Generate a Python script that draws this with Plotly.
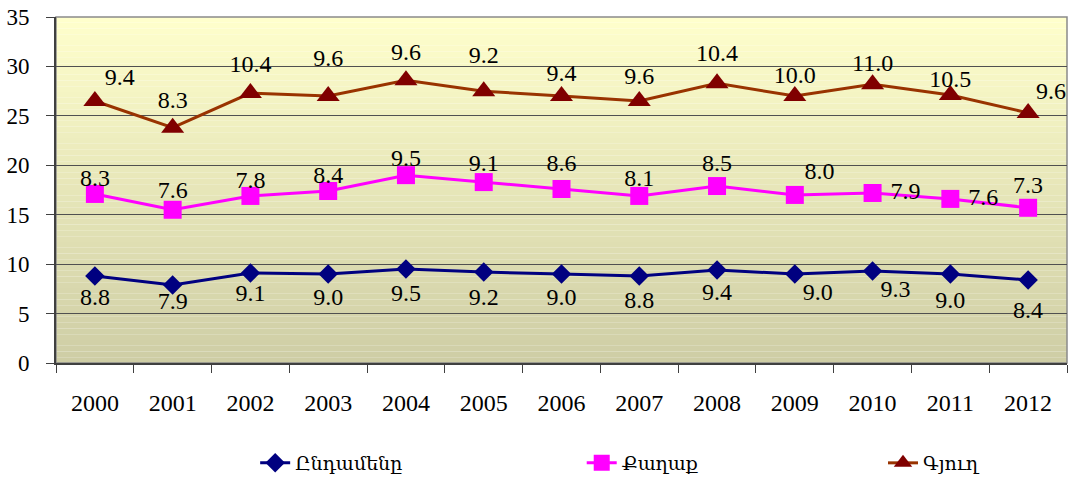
import plotly.graph_objects as go

years = ["2000", "2001", "2002", "2003", "2004", "2005", "2006",
         "2007", "2008", "2009", "2010", "2011", "2012"]
total = [8.8, 7.9, 9.1, 9.0, 9.5, 9.2, 9.0, 8.8, 9.4, 9.0, 9.3, 9.0, 8.4]
city = [8.3, 7.6, 7.8, 8.4, 9.5, 9.1, 8.6, 8.1, 8.5, 8.0, 7.9, 7.6, 7.3]
village = [9.4, 8.3, 10.4, 9.6, 9.6, 9.2, 9.4, 9.6, 10.4, 10.0, 11.0, 10.5, 9.6]
names = ["Ընդամենը", "Քաղաք", "Գյուղ"]

FONT = "Liberation Serif, DejaVu Serif, Times New Roman, serif"
LFONT = "Liberation Serif, DejaVu Serif, serif"

# label placement (style only)
pos_total = ["bottom center"] * 13
pos_total[9] = "bottom right"
pos_total[10] = "bottom right"
off_total = [16, 8, 14, 19, 21, 22, 19, 21, 17, 11, 11, 24, 30]

pos_city = ["top center"] * 13
pos_city[9] = "top right"
pos_city[10] = "middle right"
pos_city[11] = "middle right"
off_city = [1, 8, 2, 2, 3, 7, 18, 5, 13, 14, 27, 27, 13]

pos_village = ["top center"] * 13
pos_village[0] = "top right"
pos_village[12] = "top right"
off_village = [14, 21, 22, 37, 22, 34, 13, 16, 24, 10, 10, 1, 11]

fig = go.Figure()
series = [
    (names[0], total, "#000080", "#000080", "diamond", 15, pos_total, off_total, "legend"),
    (names[1], city, "#FF00FF", "#FF00FF", "square", 18, pos_city, off_city, "legend2"),
    (names[2], village, "#993300", "#800000", "triangle-up", 20, pos_village, off_village, "legend3"),
]
for name, vals, lc, mc, sym, ms, tp, off, lg in series:
    fig.add_trace(go.Scatter(
        x=years, y=vals, name=name, stackgroup="lines", fill="none",
        mode="lines+markers", legend=lg,
        line=dict(color=lc, width=3),
        marker=dict(color=mc, symbol=sym, size=ms, line=dict(width=0)),
        cliponaxis=False, hoverinfo="skip",
    ))
for name, vals, lc, mc, sym, ms, tp, off, lg in series:
    fig.add_trace(go.Scatter(
        x=years, y=vals, name=name + " labels", stackgroup="labels", fill="none",
        mode="markers+text", showlegend=False,
        line=dict(width=0),
        marker=dict(color="rgba(0,0,0,0)", size=off, line=dict(width=0)),
        text=[f"{v:.1f}" for v in vals], textposition=tp,
        textfont=dict(family=FONT, size=24, color="black"),
        cliponaxis=False, hoverinfo="skip",
    ))

# gradient background bands
shapes = []
n = 60
top = (255, 255, 204)
bot = (206, 205, 165)
for i in range(n):
    t = (i + 0.5) / n
    c = tuple(int(round(bot[k] + (top[k] - bot[k]) * t)) for k in range(3))
    shapes.append(dict(type="rect", xref="paper", yref="paper",
                       x0=0, x1=1, y0=i / n, y1=(i + 1) / n,
                       fillcolor=f"rgb{c}", line=dict(width=0), layer="below"))
shapes.append(dict(type="rect", xref="paper", yref="paper", x0=0, x1=1, y0=0, y1=1,
                   line=dict(color="#8a8a8a", width=1.5), layer="between"))

legend_common = dict(orientation="h", y=-0.289, yanchor="middle", xanchor="left",
                     font=dict(family=LFONT, size=19, color="black"),
                     bgcolor="rgba(0,0,0,0)")
fig.update_layout(
    width=1070, height=481,
    margin=dict(l=56, r=3, t=17, b=118, autoexpand=False),
    paper_bgcolor="white", plot_bgcolor="rgba(0,0,0,0)",
    shapes=shapes,
    font=dict(family=FONT, size=23, color="black"),
    showlegend=True,
    legend=dict(x=0.197, **legend_common),
    legend2=dict(x=0.520, **legend_common),
    legend3=dict(x=0.818, **legend_common),
)
fig.update_xaxes(type="category", tickson="boundaries", ticks="outside", ticklen=8,
                 range=[-0.5, len(years) - 0.5],
                 tickcolor="#404040", showline=True, linecolor="#404040", linewidth=2,
                 showgrid=False, ticklabelstandoff=17,
                 tickfont=dict(family=FONT, size=24, color="black"))
fig.update_yaxes(range=[0, 35], dtick=5, ticks="outside", ticklen=8, tickcolor="#404040",
                 showline=True, linecolor="#404040", linewidth=2,
                 showgrid=True, gridcolor="#505050", gridwidth=1, zeroline=False,
                 ticklabelstandoff=12,
                 tickfont=dict(family=FONT, size=23, color="black"))

fig.write_html("out.html", config={"displayModeBar": False},
               post_script="document.body.style.margin='0px';document.body.style.overflow='hidden';")
